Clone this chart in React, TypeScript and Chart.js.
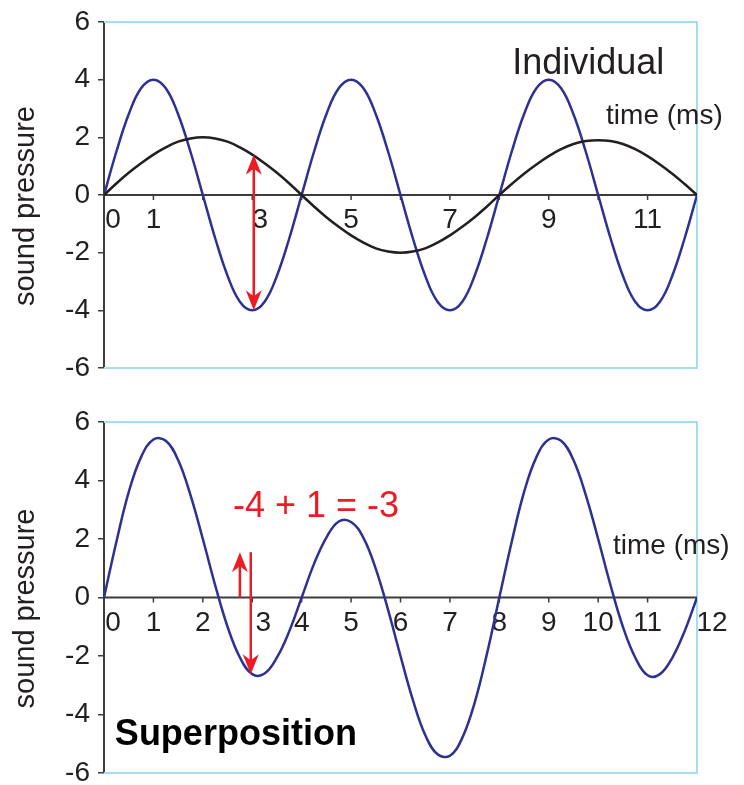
import React, { useEffect, useRef } from 'react';
import { Chart, registerables } from 'chart.js';

Chart.register(...registerables);

const FONT_FAMILY = '"Liberation Sans", Arial, Helvetica, sans-serif';
const INK = '#231f20';
const NAVY = '#2e3192';
const RED = '#ed1c24';
const FRAME = '#a6dcf4';
const AXIS = '#3c3c3c';

// sample times (ms)
const timeMs = [
  0, 0.25, 0.5, 0.75, 1, 1.25, 1.5, 1.75, 2, 2.25, 2.5, 2.75,
  3, 3.25, 3.5, 3.75, 4, 4.25, 4.5, 4.75, 5, 5.25, 5.5, 5.75,
  6, 6.25, 6.5, 6.75, 7, 7.25, 7.5, 7.75, 8, 8.25, 8.5, 8.75,
  9, 9.25, 9.5, 9.75, 10, 10.25, 10.5, 10.75, 11, 11.25, 11.5, 11.75, 12,
];

// 4 ms tone (blue)
const tone4ms = [
  0, 1.5, 2.8, 3.7, 4, 3.7, 2.8, 1.5, 0, -1.5, -2.8, -3.7,
  -4, -3.7, -2.8, -1.5, 0, 1.5, 2.8, 3.7, 4, 3.7, 2.8, 1.5,
  0, -1.5, -2.8, -3.7, -4, -3.7, -2.8, -1.5, 0, 1.5, 2.8, 3.7,
  4, 3.7, 2.8, 1.5, 0, -1.5, -2.8, -3.7, -4, -3.7, -2.8, -1.5, 0,
];

// 8 ms tone (black)
const tone8ms = [
  0, 0.4, 0.77, 1.1, 1.4, 1.65, 1.85, 1.96, 2, 1.96, 1.85, 1.65,
  1.4, 1.1, 0.77, 0.4, 0, -0.4, -0.77, -1.1, -1.4, -1.65, -1.85, -1.96,
  -2, -1.96, -1.85, -1.65, -1.4, -1.1, -0.77, -0.4, 0, 0.38, 0.74, 1.06,
  1.35, 1.59, 1.77, 1.87, 1.9, 1.87, 1.77, 1.59, 1.35, 1.06, 0.74, 0.38, 0,
];

// combined waveform
const combined = [
  0, 1.9, 3.6, 4.8, 5.4, 5.36, 4.7, 3.5, 2, 0.42, -1, -2.05,
  -2.62, -2.6, -2.05, -1.15, 0, 1.15, 2.05, 2.6, 2.58, 2.04, 0.98, -0.43,
  -2, -3.5, -4.7, -5.36, -5.41, -4.8, -3.6, -1.92, 0, 1.9, 3.6, 4.8,
  5.4, 5.36, 4.7, 3.5, 2, 0.42, -1, -2.05, -2.66, -2.62, -2.06, -1.15, 0,
];

const pressureRange = [-6, 6];
const pressureStep = 2;
const timeRange = [0, 12];
const individualTimeLabels = [0, 1, 3, 5, 7, 9, 11];
const superposTimeLabels = [0, 1, 2, 3, 4, 5, 6, 7, 8, 9, 10, 11, 12];

type Arrow = { t: number; from: number; to: number; both?: boolean };
type Note = { text: string; t: number; p: number; size: number; bold?: boolean; color: string };
type Series = { values: number[]; color: string };
type PanelSpec = {
  top: number;
  height: number;
  padTop: number;
  padBottom: number;
  series: Series[];
  timeLabels: number[];
  labelShift: Record<number, number>;
  arrows: Arrow[];
  notes: Note[];
};

const individualPanel: PanelSpec = {
  top: 0,
  height: 395,
  padTop: 14,
  padBottom: 27,
  series: [
    { values: tone4ms, color: NAVY },
    { values: tone8ms, color: INK },
  ],
  timeLabels: individualTimeLabels,
  labelShift: { 0: 9, 3: 8 },
  arrows: [{ t: 3.03, from: -4, to: 1.4, both: true }],
  notes: [
    { text: 'Individual', t: 8.26, p: 4.2, size: 36, color: INK },
    { text: 'time (ms)', t: 10.16, p: 2.47, size: 28, color: INK },
  ],
};

const superposPanel: PanelSpec = {
  top: 395,
  height: 400,
  padTop: 27,
  padBottom: 19,
  series: [{ values: combined, color: NAVY }],
  timeLabels: superposTimeLabels,
  labelShift: { 0: 9, 3: 11, 12: 15 },
  arrows: [
    { t: 2.75, from: 0, to: 1.55 },
    { t: 2.97, from: 1.55, to: -2.62 },
  ],
  notes: [
    { text: '-4 + 1 = -3', t: 2.61, p: 2.75, size: 36, color: RED },
    { text: 'time (ms)', t: 10.3, p: 1.49, size: 28, color: INK },
    { text: 'Superposition', t: 0.22, p: -5.05, size: 36, bold: true, color: '#000' },
  ],
};

function arrowHead(ctx: CanvasRenderingContext2D, x: number, tipY: number, dir: number) {
  // dir: -1 points up, +1 points down
  const len = 20;
  const half = 8;
  const notch = 6;
  ctx.beginPath();
  ctx.moveTo(x, tipY);
  ctx.lineTo(x - half, tipY - dir * len);
  ctx.lineTo(x, tipY - dir * (len - notch));
  ctx.lineTo(x + half, tipY - dir * len);
  ctx.closePath();
  ctx.fill();
}

function decorPlugin(spec: PanelSpec) {
  return {
    id: 'panelDecor',
    beforeDatasetsDraw(chart: any) {
      const { ctx, chartArea: a, scales } = chart;
      const x = scales.x;
      const y = scales.y;
      ctx.save();
      // light frame on top, right and bottom
      ctx.strokeStyle = FRAME;
      ctx.lineWidth = 2;
      ctx.beginPath();
      ctx.moveTo(a.left, a.top);
      ctx.lineTo(a.right, a.top);
      ctx.lineTo(a.right, a.bottom);
      ctx.lineTo(a.left, a.bottom);
      ctx.stroke();

      // time axis through zero
      const y0 = y.getPixelForValue(0);
      ctx.strokeStyle = AXIS;
      ctx.lineWidth = 2;
      ctx.beginPath();
      ctx.moveTo(a.left, y0);
      ctx.lineTo(a.right, y0);
      ctx.stroke();
      ctx.lineWidth = 1.5;
      ctx.beginPath();
      for (let t = timeRange[0] + 1; t < timeRange[1]; t++) {
        const px = x.getPixelForValue(t);
        ctx.moveTo(px, y0);
        ctx.lineTo(px, y0 + 5);
      }
      ctx.stroke();

      ctx.fillStyle = INK;
      ctx.font = `28px ${FONT_FAMILY}`;
      ctx.textAlign = 'center';
      ctx.textBaseline = 'alphabetic';
      spec.timeLabels.forEach((v) => {
        const px = x.getPixelForValue(v) + (spec.labelShift[v] ?? 0);
        ctx.fillText(String(v), px, y0 + 33);
      });

      // vertical axis title
      ctx.save();
      ctx.translate(34, (a.top + a.bottom) / 2 + 11);
      ctx.rotate(-Math.PI / 2);
      ctx.font = `29px ${FONT_FAMILY}`;
      ctx.textAlign = 'center';
      ctx.fillText('sound pressure', 0, 0);
      ctx.restore();
      ctx.restore();
    },
    afterDatasetsDraw(chart: any) {
      const { ctx, scales } = chart;
      const x = scales.x;
      const y = scales.y;
      ctx.save();
      ctx.strokeStyle = RED;
      ctx.fillStyle = RED;
      ctx.lineWidth = 2.5;
      spec.arrows.forEach((ar) => {
        const px = x.getPixelForValue(ar.t);
        const yFrom = y.getPixelForValue(ar.from);
        const yTo = y.getPixelForValue(ar.to);
        const dir = yTo < yFrom ? -1 : 1;
        ctx.beginPath();
        ctx.moveTo(px, ar.both ? yFrom + dir * 10 : yFrom);
        ctx.lineTo(px, yTo - dir * 10);
        ctx.stroke();
        arrowHead(ctx, px, yTo, dir);
        if (ar.both) arrowHead(ctx, px, yFrom, -dir);
      });

      ctx.textAlign = 'left';
      ctx.textBaseline = 'alphabetic';
      spec.notes.forEach((n) => {
        ctx.fillStyle = n.color;
        ctx.font = `${n.bold ? 'bold ' : ''}${n.size}px ${FONT_FAMILY}`;
        ctx.fillText(n.text, x.getPixelForValue(n.t), y.getPixelForValue(n.p));
      });
      ctx.restore();
    },
  };
}

function Panel({ spec }: { spec: PanelSpec }) {
  const ref = useRef<HTMLCanvasElement | null>(null);

  useEffect(() => {
    if (!ref.current) return;
    const chart = new Chart(ref.current, {
      type: 'line',
      data: {
        datasets: spec.series.map((s, i) => ({
          data: timeMs.map((t, k) => ({ x: t, y: s.values[k] })),
          borderColor: s.color,
          borderWidth: 2.5,
          pointRadius: 0,
          fill: false,
          tension: 0.4,
          cubicInterpolationMode: 'default' as const,
          order: spec.series.length - i,
        })),
      },
      options: {
        responsive: false,
        animation: false,
        devicePixelRatio: 1,
        layout: { padding: { left: 0, right: 47, top: spec.padTop, bottom: spec.padBottom } },
        plugins: { legend: { display: false }, tooltip: { enabled: false } },
        events: [],
        scales: {
          x: { type: 'linear', min: timeRange[0], max: timeRange[1], display: false },
          y: {
            type: 'linear',
            min: pressureRange[0],
            max: pressureRange[1],
            ticks: {
              stepSize: pressureStep,
              color: INK,
              padding: 8,
              font: { family: FONT_FAMILY, size: 28, lineHeight: 1 },
            },
            grid: { drawOnChartArea: false, drawTicks: true, tickLength: 6, color: AXIS, lineWidth: 1.5 },
            border: { display: true, color: AXIS, width: 2 },
            afterFit: (scale: any) => {
              scale.width = 104;
            },
          },
        },
      } as any,
      plugins: [decorPlugin(spec)],
    });
    return () => chart.destroy();
  }, [spec]);

  return (
    <canvas
      ref={ref}
      width={744}
      height={spec.height}
      style={{ position: 'absolute', left: 0, top: spec.top, display: 'block' }}
    />
  );
}

export default function App() {
  return (
    <div
      style={{
        position: 'absolute',
        left: 0,
        top: 0,
        width: 744,
        height: 785,
        overflow: 'hidden',
        background: '#ffffff',
      }}
    >
      <Panel spec={individualPanel} />
      <Panel spec={superposPanel} />
    </div>
  );
}
